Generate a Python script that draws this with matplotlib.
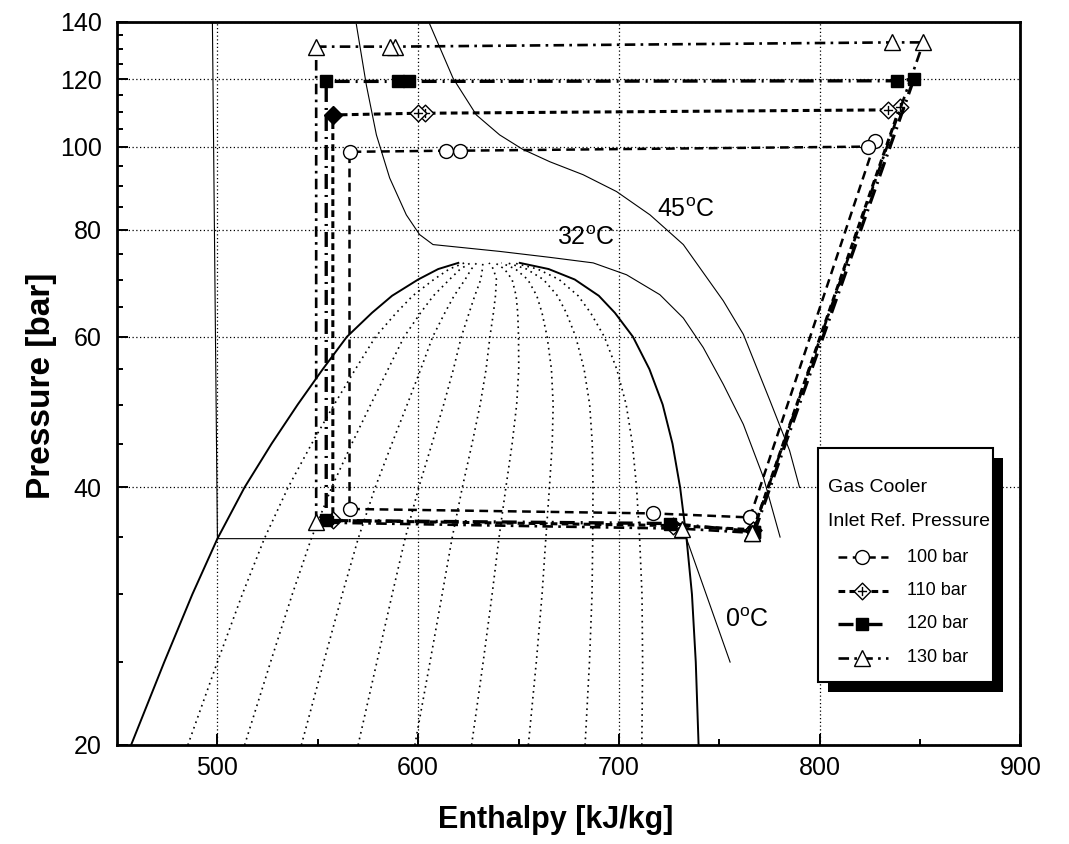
import numpy as np
import matplotlib
matplotlib.use("Agg")
import matplotlib.pyplot as plt
from matplotlib.path import Path
from matplotlib.patches import Rectangle
from matplotlib.lines import Line2D
from matplotlib.transforms import Affine2D
from matplotlib.ticker import FixedLocator, FixedFormatter, NullFormatter

plt.rcParams["font.family"] = ["Liberation Sans", "DejaVu Sans"]
plt.rcParams["mathtext.fontset"] = "custom"
plt.rcParams["mathtext.rm"] = "Liberation Sans"

# Saturation dome of CO2
p_sat = [20, 25, 30, 34.85, 40, 45, 50, 55, 60, 64, 67, 70, 72, 73.2]
h_liq = [457, 473.5, 487.5, 500, 513.5, 527, 540, 552.5, 564.5, 577, 587, 600, 610, 620]
h_vap = [739.7, 738.3, 736.4, 733.7, 730.5, 726.7, 721.8, 715.2, 707, 698, 690, 678, 665, 650.6]
qualities = [0.1, 0.2, 0.3, 0.4, 0.5, 0.6, 0.7, 0.8, 0.9]

# Isotherms
t0_h = [497.5, 500, 733.7, 755.4]
t0_p = [140, 34.85, 34.85, 25.0]
t32_h = [569.2, 574.2, 579.2, 585.8, 594.1, 600.7, 607.4, 640.6, 665.6, 687.2, 703.8,
         720.4, 732.1, 742.0, 752.0, 762.0, 772.0, 780.3]
t32_p = [139.1, 118.1, 103.3, 92.0, 83.3, 79.0, 76.9, 75.5, 74.3, 73.2, 70.9,
         67.2, 63.1, 58.3, 52.8, 47.4, 41.1, 35.0]
t45_h = [605.7, 617.4, 629.0, 640.6, 652.0, 665.6, 682.2, 698.8, 715.5, 732.1, 752.0,
         762.0, 775.3, 785.0, 790.0]
t45_p = [139.3, 120.3, 109.0, 103.3, 99.4, 96.1, 92.8, 88.7, 83.3, 76.9, 66.1,
         60.4, 50.5, 44.2, 40.0]

# Cycles for each gas cooler inlet pressure
h100 = [765.3, 827.7, 824.3, 620.7, 614.1, 565.8, 565.8, 717.1, 765.3]
p100 = [36.9, 101.5, 100.1, 99.0, 99.0, 98.7, 37.75, 37.3, 36.9]
h110 = [767.0, 840.1, 834.3, 603.2, 599.9, 557.5, 557.5, 727.0, 767.0]
p110 = [35.7, 111.5, 110.5, 109.5, 109.5, 109.0, 36.6, 36.1, 35.7]
h120 = [767.5, 846.9, 838.5, 595.5, 590.0, 554.2, 554.2, 725.4, 767.5]
p120 = [35.5, 120.0, 119.5, 119.3, 119.3, 119.3, 36.6, 36.3, 35.5]
h130 = [766.5, 851.7, 836.0, 588.3, 585.8, 549.2, 549.2, 731.3, 766.5]
p130 = [35.4, 132.5, 132.5, 131.0, 131.0, 131.0, 36.4, 35.8, 35.4]
labels = ["100 bar", "110 bar", "120 bar", "130 bar"]

fig = plt.figure(figsize=(10.69, 8.44), dpi=100)
ax = fig.add_axes([0.1095, 0.1173, 0.8450, 0.8567])

# dome and quality lines
ax.plot(h_liq, p_sat, color="black", lw=1.4, zorder=2)
ax.plot(h_vap, p_sat, color="black", lw=1.4, zorder=2)
hl = np.array(h_liq)
hv = np.array(h_vap)
for q in qualities:
    ax.plot(hl + q * (hv - hl), p_sat, color="black", lw=1.2,
            linestyle=(0, (1, 2.5)), zorder=2)

# isotherms
for hh, pp in [(t0_h, t0_p), (t32_h, t32_p), (t45_h, t45_p)]:
    ax.plot(hh, pp, color="black", lw=0.8, zorder=2)

ax.text(719, 84.5, r"45$^{\mathrm{o}}$C", fontsize=18, va="center", ha="left")
ax.text(669, 78.3, r"32$^{\mathrm{o}}$C", fontsize=18, va="center", ha="left")
ax.text(753, 28.0, r"0$^{\mathrm{o}}$C", fontsize=18, va="center", ha="left")

# diamond with a cross inside
dia = Path([(0, 1), (1, 0), (0, -1), (-1, 0), (0, 1),
            (0, 0.55), (0, -0.55), (-0.55, 0), (0.55, 0)],
           [Path.MOVETO, Path.LINETO, Path.LINETO, Path.LINETO, Path.CLOSEPOLY,
            Path.MOVETO, Path.LINETO, Path.MOVETO, Path.LINETO])

styles = [
    dict(lw=1.8, linestyle=(0, (3.5, 2.2)), marker="o", ms=10, mfc="white", mew=1.0),
    dict(lw=2.2, linestyle=(0, (2.2, 1.4)), marker=dia, ms=12, mfc="white", mew=1.0),
    dict(lw=2.4, linestyle=(0, (4.5, 1.8, 0.6, 1.8)), marker="s", ms=9, mfc="black", mew=1.0),
    dict(lw=1.9, linestyle=(0, (4, 2, 1, 2)), marker="^", ms=11, mfc="white", mew=1.0),
]

for hh, pp, st in zip([h100, h110, h120, h130], [p100, p110, p120, p130], styles):
    ax.plot(hh, pp, color="black", mec="black", zorder=4, **st)
ax.plot(h110[5], p110[5], marker="D", ms=9, color="black", zorder=4)

ax.set_yscale("log")
ax.set_xlim(450, 900)
ax.set_ylim(20, 140)

yt = [20, 40, 60, 80, 100, 120, 140]
ax.yaxis.set_major_locator(FixedLocator(yt))
ax.yaxis.set_major_formatter(FixedFormatter([str(v) for v in yt]))
ax.yaxis.set_minor_locator(FixedLocator([v for v in range(25, 140, 5) if v not in yt]))
ax.yaxis.set_minor_formatter(NullFormatter())
ax.set_xticks([500, 600, 700, 800, 900])
ax.set_xticks([550, 650, 750, 850], minor=True)

ax.grid(True, which="major", color="black", lw=0.9, linestyle=(0, (1, 2)))
ax.tick_params(which="both", direction="in", top=False, right=False, width=1.4)
ax.tick_params(which="major", length=8, labelsize=18, pad=8)
ax.tick_params(axis="y", which="major", pad=11)
ax.tick_params(which="minor", length=4)
for s in ax.spines.values():
    s.set_linewidth(2.0)

ax.set_xlabel("Enthalpy [kJ/kg]", fontsize=22, fontweight="bold")
ax.set_ylabel("Pressure [bar]", fontsize=24, fontweight="bold")
ax.xaxis.set_label_coords(0.486, -0.083)
ax.yaxis.set_label_coords(-0.066, 0.497)

# legend box drawn by hand (pixel coords from the top-left corner)
px = Affine2D().scale(1, -1).translate(0, 844)
fig.add_artist(Rectangle((828, 458), 175, 234, transform=px, facecolor="black",
                         edgecolor="none", zorder=1))
fig.add_artist(Rectangle((818, 448), 175, 234, transform=px, facecolor="white",
                         edgecolor="black", lw=1.5, zorder=1.1))
fig.text(828, 488, "Gas Cooler", transform=px, fontsize=14, va="center", zorder=3)
fig.text(828, 522, "Inlet Ref. Pressure", transform=px, fontsize=14, va="center", zorder=3)
for i, (lab, st) in enumerate(zip(labels, styles)):
    yy = 557 + 33.5 * i
    fig.add_artist(Line2D([838, 862, 888], [yy, yy, yy], transform=px, color="black",
                          mec="black", markevery=[1], zorder=2, **st))
    fig.text(907, yy, lab, transform=px, fontsize=13, va="center", zorder=3)

fig.savefig("out.png", dpi=100)
